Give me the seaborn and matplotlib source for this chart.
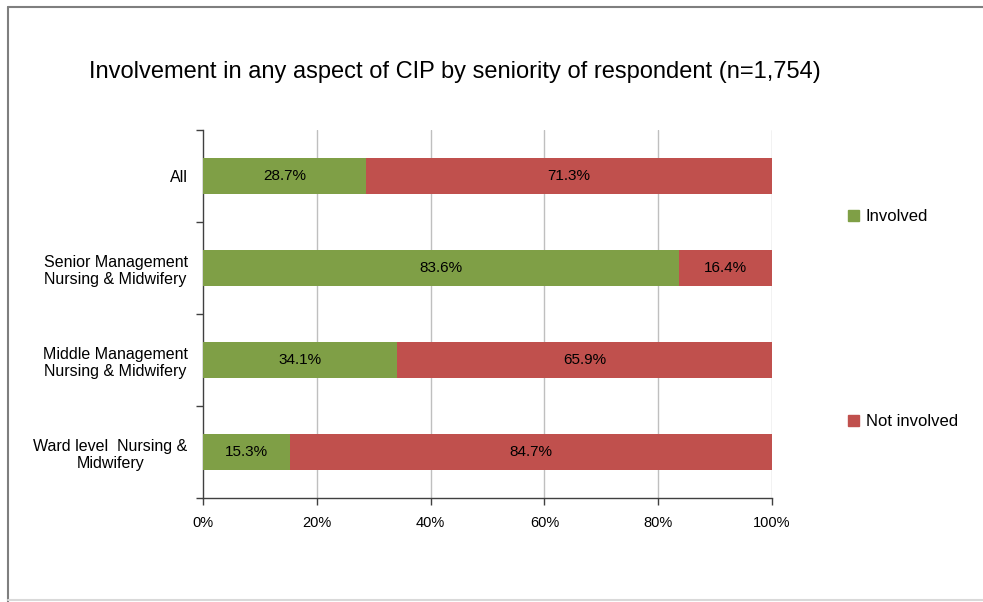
import matplotlib.pyplot as plt
import seaborn as sns
import pandas as pd
from matplotlib.lines import Line2D
from matplotlib.patches import Patch

# data
groups = ["All",
          "Senior Management\nNursing & Midwifery",
          "Middle Management\nNursing & Midwifery",
          "Ward level  Nursing &\nMidwifery"]
involved = [28.7, 83.6, 34.1, 15.3]
not_involved = [71.3, 16.4, 65.9, 84.7]
x_ticks = [0, 20, 40, 60, 80, 100]
x_labels = ["0%", "20%", "40%", "60%", "80%", "100%"]

green = "#7F9F46"
red = "#C0504D"

sns.set_style("white")
plt.rcParams['font.family'] = ['Liberation Sans', 'DejaVu Sans']
plt.rcParams['text.color'] = 'black'
plt.rcParams['xtick.color'] = 'black'
plt.rcParams['ytick.color'] = 'black'

df = pd.DataFrame({"group": groups, "involved": involved,
                   "not_involved": not_involved})
df["total"] = df["involved"] + df["not_involved"]

fig = plt.figure(figsize=(9.83, 6.02), dpi=100)
ax = fig.add_axes([203 / 983, 1 - 498 / 602, (772 - 203) / 983, (498 - 130) / 602])

# stacked bars: full length red, then green on top
sns.barplot(data=df, x="total", y="group", orient="h", color=red,
            saturation=1, width=0.4, linewidth=0, ax=ax, zorder=3)
sns.barplot(data=df, x="involved", y="group", orient="h", color=green,
            saturation=1, width=0.4, linewidth=0, ax=ax, zorder=4)

for i, (a, b) in enumerate(zip(involved, not_involved)):
    ax.text(a / 2, i, f"{a:.1f}%", ha="center", va="center", fontsize=11, zorder=5)
    ax.text(a + b / 2, i, f"{b:.1f}%", ha="center", va="center", fontsize=11, zorder=5)

ax.set_xlim(0, 100)
ax.set_ylim(3.5, -0.5)
ax.set_xticks(x_ticks)
ax.set_xticklabels(x_labels, fontsize=10.5)
ax.set_yticks(range(len(groups)))
ax.set_yticklabels(groups, fontsize=11.5, multialignment="center")
ax.set_yticks([-0.5, 0.5, 1.5, 2.5, 3.5], minor=True)
ax.set_xlabel("")
ax.set_ylabel("")

ax.tick_params(axis="y", which="major", length=0, pad=11, left=False)
ax.tick_params(axis="y", which="minor", length=5, width=1, direction="out",
               color="#404040", left=True)
ax.tick_params(axis="x", length=5, width=1, direction="out", color="#404040",
               pad=8, bottom=True)

for x in x_ticks[1:]:
    ax.axvline(x, color="#BFBFBF", lw=1, zorder=1)

for s in ["top", "right"]:
    ax.spines[s].set_visible(False)
for s in ["left", "bottom"]:
    ax.spines[s].set_color("#404040")
    ax.spines[s].set_linewidth(1)

fig.text(455 / 983, 1 - 72 / 602, "Involvement in any aspect of CIP by seniority of respondent (n=1,754)",
         ha="center", va="center", fontsize=17)

handles = [Patch(facecolor=green, edgecolor=green), Patch(facecolor=red, edgecolor=red)]
fig.legend(handles, ["Involved", "Not involved"], loc="upper left",
           bbox_to_anchor=(848 / 983, 1 - 209 / 602), frameon=False, fontsize=12,
           handlelength=0.65, handleheight=0.65, handletextpad=0.4,
           labelspacing=11.4, borderaxespad=0, borderpad=0)

# chart border like the original
fig.add_artist(Line2D([8 / 983, 8 / 983], [0, 1 - 7 / 602], color="#7F7F7F", lw=1.5,
                      transform=fig.transFigure))
fig.add_artist(Line2D([8 / 983, 1], [1 - 7 / 602, 1 - 7 / 602], color="#7F7F7F", lw=1.5,
                      transform=fig.transFigure))
fig.add_artist(Line2D([8 / 983, 1], [2 / 602, 2 / 602], color="#D9D9D9", lw=1.5,
                      transform=fig.transFigure))

fig.savefig("out.png", dpi=100)
